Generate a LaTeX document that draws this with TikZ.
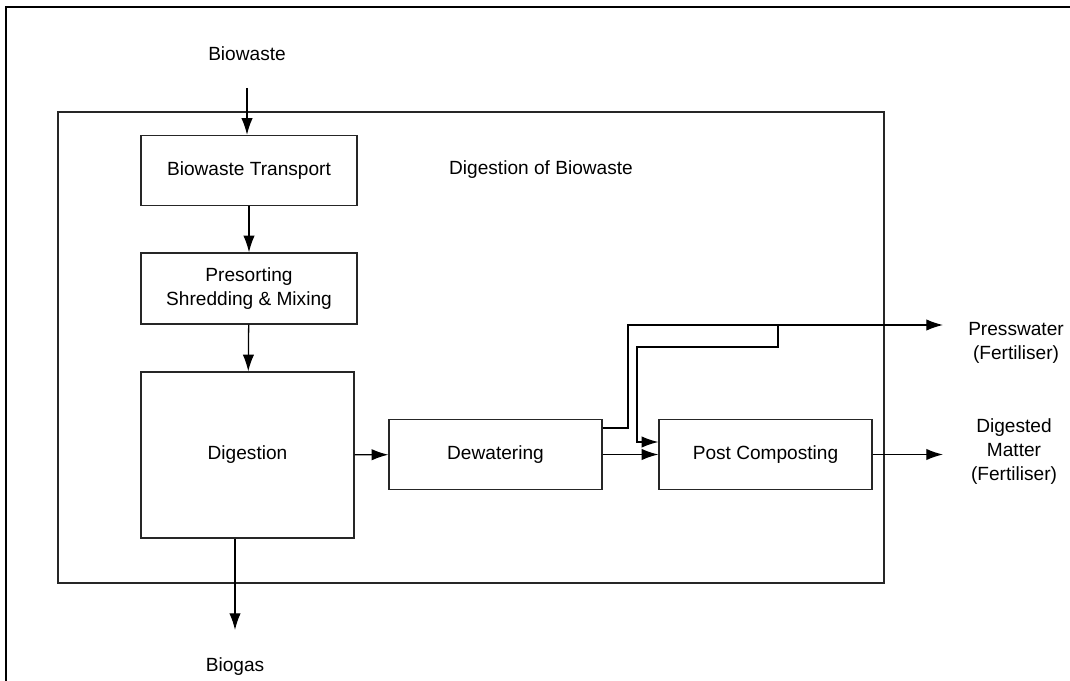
\documentclass[tikz,border=0pt]{standalone}
\usepackage{fontspec}
\setmainfont{Liberation Sans}
\usetikzlibrary{arrows.meta,positioning}

\begin{document}
\begin{tikzpicture}[
        x=0.03cm, y=-0.03cm,
        block/.style={draw=black!85, line width=1.1pt, minimum width=6.39cm, minimum height=2.1cm, align=center, inner sep=0pt},
        label/.style={align=center, inner sep=0pt},
        arrow/.style={-{Latex[length=5mm,width=3.4mm]}, line width=1.1pt},
        every node/.style={font=\fontsize{16.3}{20.5}\selectfont}
    ]
    \useasboundingbox (0,0) rectangle (1070,681);

    % page frame
    \draw[line width=1.8pt] (1070,7) -- (6,7) -- (6,681);

    % plant boundary
    \draw[draw=black!85, line width=1.1pt] (58,112) rectangle (884,583);
    \node[label] (title) at (541,170) {Digestion of Biowaste};

    % process steps
    \node[block, minimum width=6.48cm] (trans) at (249,170.5) {Biowaste Transport};
    \node[block, minimum width=6.48cm, minimum height=2.13cm] (presort) at (249,288.5) {Presorting\\Shredding \& Mixing};
    \node[block, minimum height=4.98cm] (digest) at (247.5,455) {Digestion};
    \node[block] (dewater) at (495.5,454.5) {Dewatering};
    \node[block] (post) at (765.5,454.5) {Post Composting};

    % inputs and outputs
    \node[label] (bio) at (247,54) {Biowaste};
    \node[label] (gas) at (235,667) {Biogas};
    \node[label] (press) at (1016,343) {Presswater\\(Fertiliser)};
    \node[label] (matter) at (1014,452) {Digested\\Matter\\(Fertiliser)};

    \coordinate (bioin) at (247,88);
    \coordinate (gasout) at (235,630);
    \coordinate (pressout) at (943,325);
    \coordinate (matterout) at (943,454.5);
    \coordinate (split) at (778,325);

    \draw[arrow] (bioin) -- (bioin |- trans.north);
    \draw[arrow] (trans) -- (presort);
    \draw[arrow] (presort) -- (digest);
    \draw[arrow] (digest.south -| gasout) -- (gasout);
    \draw[arrow] (digest) -- (dewater);
    \draw[arrow] (dewater) -- (post);
    \draw[arrow] (post) -- (matterout);

    % presswater line and return to post composting
    \draw[arrow] (dewater.east |- 0,428) -| (628,325) -- (pressout);
    \draw[arrow] (split) -- (778,347) -| (637,442) -- (post.west |- 0,442);

\end{tikzpicture}
\end{document}
